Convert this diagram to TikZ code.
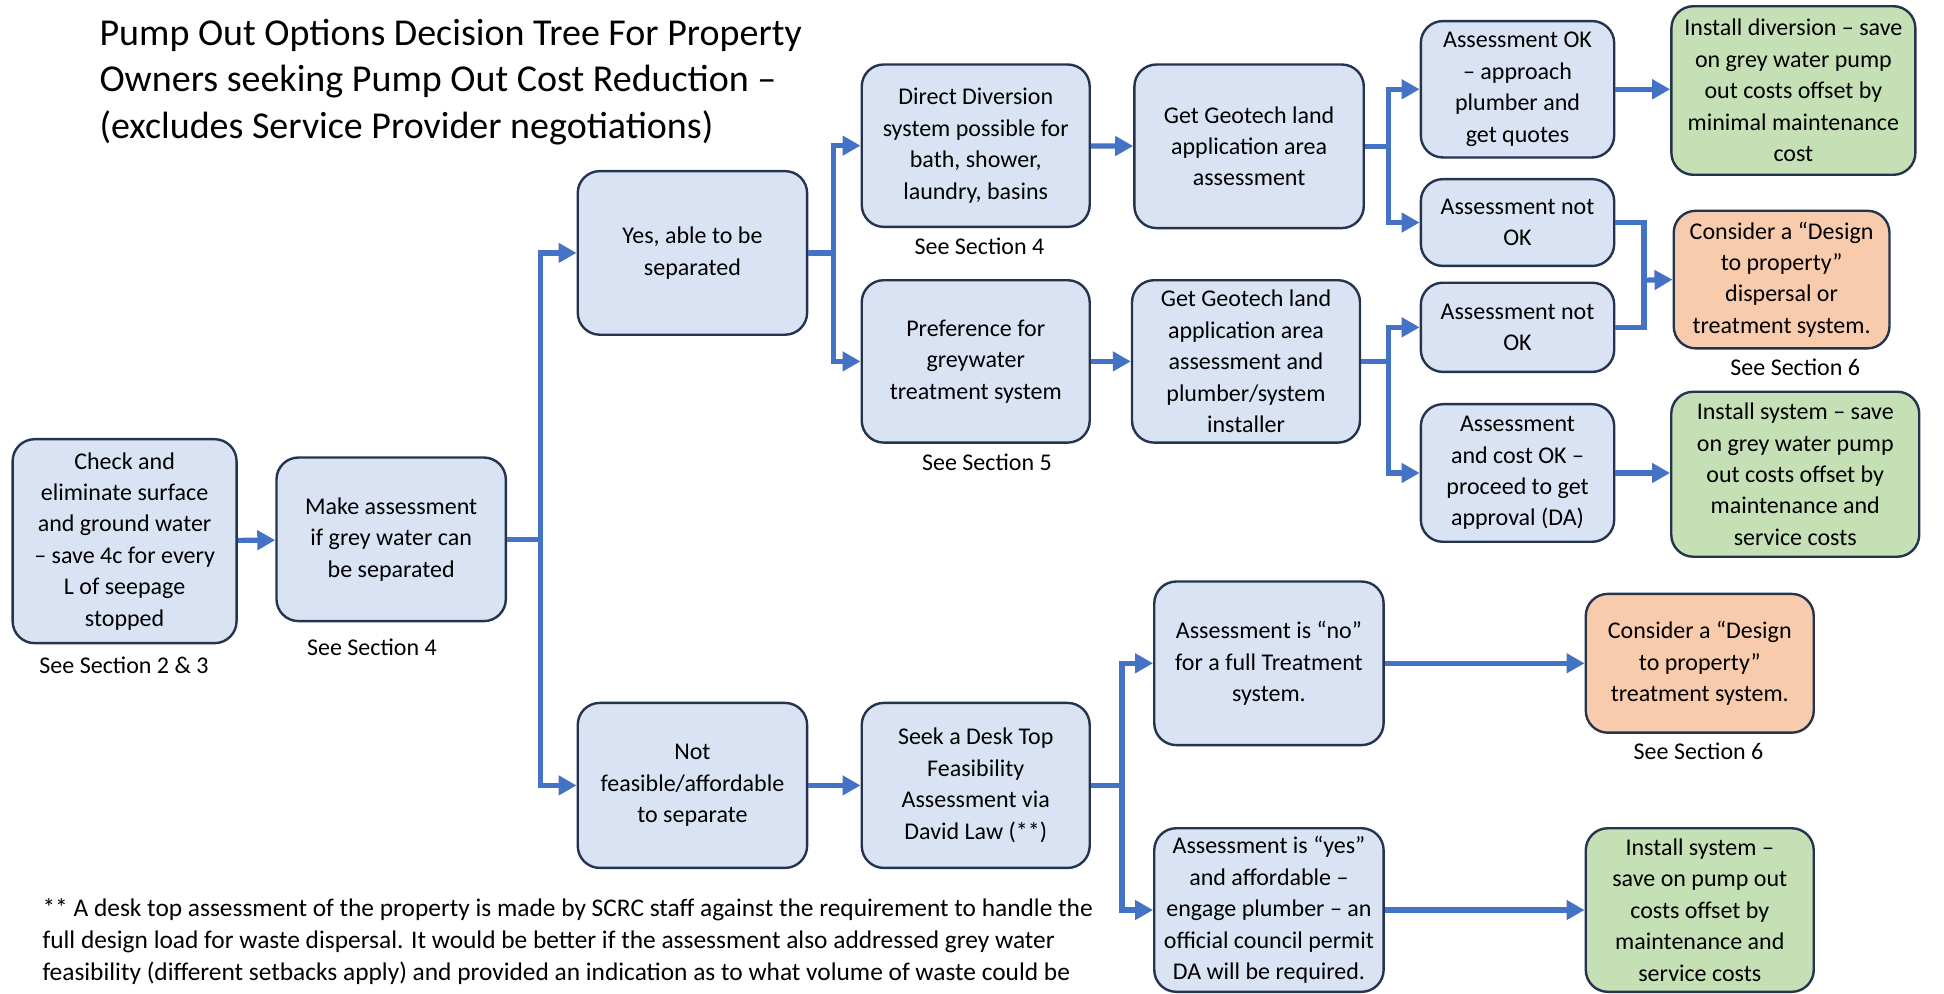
\documentclass[tikz,border=0pt]{standalone}
\usepackage{fontspec}
\setmainfont{Carlito}
\usetikzlibrary{arrows.meta}
\definecolor{boxfill}{HTML}{DAE3F3}
\definecolor{edge}{HTML}{243450}
\definecolor{okgreen}{HTML}{C5E0B4}
\definecolor{warnorange}{HTML}{F8CBAD}
\definecolor{flowblue}{HTML}{4472C4}

\begin{document}
\begin{tikzpicture}[x=0.62pt,y=-0.62pt]
  \tikzset{box/.style={draw=edge,line width=1.2pt,rounded corners=11pt,fill=#1,align=center,inner sep=2pt,
      font=\fontsize{12}{15.7}\selectfont},
    box/.default=boxfill,
    arr/.style={draw=flowblue,line width=2.6pt,line join=miter,-{Triangle[length=9pt,width=9.5pt]}},
    bus/.style={draw=flowblue,line width=2.6pt,line join=miter},
    lbl/.style={font=\fontsize{12}{14}\selectfont,inner sep=0pt}}

  \useasboundingbox (0,0) rectangle (1568,801);

  \node [font=\fontsize{19}{23.3}\selectfont,align=left,anchor=north west,inner sep=0pt] (title) at (80,15)
    {Pump Out Options Decision Tree For Property\\Owners seeking Pump Out Cost Reduction –\\(excludes Service Provider negotiations)};

  \node [box,minimum width=112pt,minimum height=102pt] (chk) at (100.5,436.5)
    {Check and\\eliminate surface\\and ground water\\– save 4c for every\\L of seepage\\stopped};
  \node [box,minimum width=114.7pt,minimum height=81.8pt] (mk) at (315.5,435)
    {Make assessment\\if grey water can\\be separated};
  \node [box,minimum width=114.7pt,minimum height=81.8pt] (yes) at (558.5,204)
    {Yes, able to be\\separated};
  \node [box,minimum width=114.7pt,minimum height=82.5pt] (nf) at (558.5,633.5)
    {Not\\feasible/affordable\\to separate};
  \node [box,minimum width=114pt,minimum height=81.2pt] (dd) at (787,117.5)
    {Direct Diversion\\system possible for\\bath, shower,\\laundry, basins};
  \node [box,minimum width=114.7pt,minimum height=81.8pt] (gg1) at (1007.5,118)
    {Get Geotech land\\application area\\assessment};
  \node [box,minimum width=96.7pt,minimum height=68.2pt] (aok) at (1224,72)
    {Assessment OK\\– approach\\plumber and\\get quotes};
  \node [box=okgreen,minimum width=122pt,minimum height=84.3pt] (inst1) at (1446.5,73)
    {Install diversion – save\\on grey water pump\\out costs offset by\\minimal maintenance\\cost};
  \node [box,minimum width=96.7pt,minimum height=43.4pt] (nok1) at (1224,179.5)
    {Assessment not\\OK};
  \node [box,minimum width=114pt,minimum height=81.2pt] (pref) at (787,291.5)
    {Preference for\\greywater\\treatment system};
  \node [box,minimum width=114pt,minimum height=81.2pt] (gg2) at (1005,291.5)
    {Get Geotech land\\application area\\assessment and\\plumber/system\\installer};
  \node [box,minimum width=96.7pt,minimum height=44.6pt] (nok2) at (1224,264)
    {Assessment not\\OK};
  \node [box=warnorange,minimum width=107.9pt,minimum height=68.8pt] (con1) at (1437,225.5)
    {Consider a “Design\\to property”\\dispersal or\\treatment system.};
  \node [box,minimum width=96.7pt,minimum height=68.8pt] (acok) at (1224,381.5)
    {Assessment\\and cost OK –\\proceed to get\\approval (DA)};
  \node [box=okgreen,minimum width=124pt,minimum height=82.5pt] (inst2) at (1448,382.5)
    {Install system – save\\on grey water pump\\out costs offset by\\maintenance and\\service costs};
  \node [box,minimum width=114pt,minimum height=82.5pt] (seek) at (787,633.5)
    {Seek a Desk Top\\Feasibility\\Assessment via\\David Law (**)};
  \node [box,minimum width=114.7pt,minimum height=81.8pt] (ano) at (1023.5,535)
    {Assessment is “no”\\for a full Treatment\\system.};
  \node [box=warnorange,minimum width=114pt,minimum height=69.4pt] (con2) at (1371,535)
    {Consider a “Design\\to property”\\treatment system.};
  \node [box,minimum width=114.7pt,minimum height=81.8pt] (ayes) at (1023.5,734)
    {Assessment is “yes”\\and affordable –\\engage plumber – an\\official council permit\\DA will be required.};
  \node [box=okgreen,minimum width=114pt,minimum height=81.8pt] (inst3) at (1371,734)
    {Install system –\\save on pump out\\costs offset by\\maintenance and\\service costs};

  \node [lbl] (s23) at (100,537) {See Section 2 \& 3};
  \node [lbl] (s4a) at (300,522) {See Section 4};
  \node [lbl] (s4b) at (790,199) {See Section 4};
  \node [lbl] (s5) at (796,373) {See Section 5};
  \node [lbl] (s6a) at (1448,296) {See Section 6};
  \node [lbl] (s6b) at (1370,606) {See Section 6};

  \node [font=\fontsize{12.7}{16}\selectfont,align=left,anchor=north west,inner sep=0pt] (note) at (34,724)
    {** A desk top assessment of the property is made by SCRC staff against the requirement to handle the\\
     full design load for waste dispersal. It would be better if the assessment also addressed grey water\\
     feasibility (different setbacks apply) and provided an indication as to what volume of waste could be};

  % bus points
  \coordinate (b1) at (436,435);
  \coordinate (b2) at (672,204);
  \coordinate (b3) at (1120,118);
  \coordinate (b4) at (1120,291.5);
  \coordinate (b5) at (1326,226);
  \coordinate (b6) at (905,633.5);

  \draw [arr] (chk) -- (mk);
  \draw [bus] (mk.east) -- (b1);
  \draw [arr] (b1) |- (yes.west);
  \draw [arr] (b1) |- (nf.west);
  \draw [bus] (yes.east) -- (b2);
  \draw [arr] (b2) |- (dd.west);
  \draw [arr] (b2) |- (pref.west);
  \draw [arr] (dd) -- (gg1);
  \draw [arr] (pref) -- (gg2);
  \draw [bus] (gg1.east) -- (b3);
  \draw [arr] (b3) |- (aok.west);
  \draw [arr] (b3) |- (nok1.west);
  \draw [bus] (gg2.east) -- (b4);
  \draw [arr] (b4) |- (nok2.west);
  \draw [arr] (b4) |- (acok.west);
  \draw [arr] (aok.east) -- (aok.east -| inst1.west);
  \draw [arr] (acok.east) -- (acok.east -| inst2.west);
  \draw [bus] (nok1.east) -| (b5);
  \draw [bus] (nok2.east) -| (b5);
  \draw [arr] (b5) -- (con1.west);
  \draw [arr] (nf) -- (seek);
  \draw [bus] (seek.east) -- (b6);
  \draw [arr] (b6) |- (ano.west);
  \draw [arr] (b6) |- (ayes.west);
  \draw [arr] (ano) -- (con2);
  \draw [arr] (ayes) -- (inst3);
\end{tikzpicture}
\end{document}
